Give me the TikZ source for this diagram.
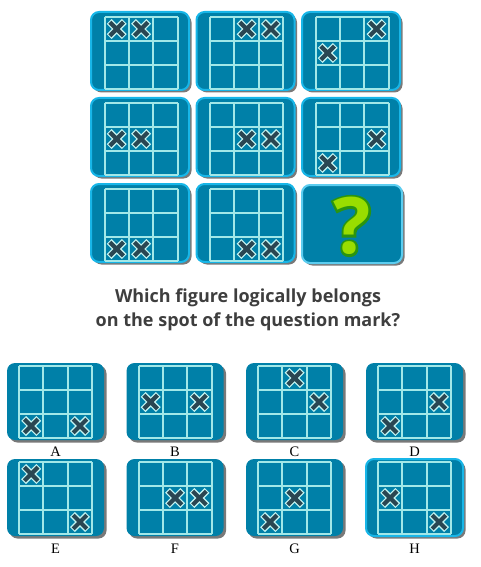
\documentclass[tikz,border=0pt]{standalone}
\usepackage{fontspec}
\setmainfont{Liberation Serif}
\newfontfamily\titlefont{Open Sans}
\newfontfamily\qthick{Open Sans Bold}[FakeBold=6]
\newfontfamily\qthin{Open Sans Bold}
\definecolor{tealc}{HTML}{0080A8}
\definecolor{cyanb}{HTML}{18B6E8}
\definecolor{cyanq}{HTML}{5CCDF0}
\definecolor{gridc}{HTML}{A2E8E8}
\definecolor{xdark}{HTML}{2A4652}
\definecolor{xlight}{HTML}{C4F4F2}
\definecolor{qgreen}{HTML}{99DD00}
\definecolor{qdark}{HTML}{2A9410}
\definecolor{titlec}{HTML}{3E3E3E}
\newcommand\xcross[2]{%
  \begin{scope}[shift={({#1},{#2})}]
    \draw[xlight,line width=6.8pt] (-7.6,-7.6)--(7.6,7.6) (-7.6,7.6)--(7.6,-7.6);
    \draw[xdark,line width=4.2pt] (-6.8,-6.8)--(6.8,6.8) (-6.8,6.8)--(6.8,-6.8);
  \end{scope}}
\newcommand\gtile[8]{%
  \begin{scope}[shift={(#1,#2)}]
    \fill[black!70,opacity=0.75,rounded corners=8pt] (2.5,2.5) rectangle (#3+2.5,#4+2.5);
    \fill[tealc,rounded corners=8pt,#7] (0,0) rectangle (#3,#4);
    \begin{scope}[shift={(#5,#6)}]
      \foreach \i in {0,...,3}{%
        \draw[gridc,line width=2pt] (\i*24.4,0) -- (\i*24.4,72);
        \draw[gridc,line width=2pt] (0,\i*24) -- (73.2,\i*24);}
      \foreach \c/\r in {#8}{\xcross{(\c-0.5)*24.4}{(\r-0.5)*24}}
    \end{scope}
  \end{scope}}
\tikzset{
  topb/.style={draw=cyanb,line width=2pt},
  plain/.style={},
  lbl/.style={font=\fontsize{14.5}{16}\selectfont,text=black},
  ttl/.style={font=\titlefont\bfseries\fontsize{18}{21}\selectfont,text=titlec}
}
\begin{document}
\begin{tikzpicture}[x=1pt,y=-1pt]
\useasboundingbox (0,0) rectangle (481,567);
% top matrix
\gtile{91}{12}{98}{78}{13.5}{5}{topb}{1/1,2/1}
\gtile{196.5}{12}{98}{78}{13.5}{5}{topb}{2/1,3/1}
\gtile{302}{12}{98}{78}{13.5}{5}{topb}{3/1,1/2}
\gtile{91}{98}{98}{78}{13.5}{5}{topb}{1/2,2/2}
\gtile{196.5}{98}{98}{78}{13.5}{5}{topb}{2/2,3/2}
\gtile{302}{98}{98}{78}{13.5}{5}{topb}{3/2,1/3}
\gtile{91}{184}{98}{78}{13.5}{5}{topb}{1/3,2/3}
\gtile{196.5}{184}{98}{78}{13.5}{5}{topb}{2/3,3/3}
% question tile
\fill[black!70,opacity=0.75,rounded corners=8pt] (304.5,187.5) rectangle (404.5,265.5);
\fill[tealc,rounded corners=8pt,draw=cyanq,line width=2pt] (302,185) rectangle (402,263);
\node[font=\qthick\fontsize{78}{80}\selectfont,text=qdark,inner sep=0pt] (qmo) at (352,226) {?};
\node[font=\qthin\fontsize{78}{80}\selectfont,text=qgreen,inner sep=0pt] (qm) at (qmo.center) {?};
% question text
\node[ttl] (t1) at (248,298) {Which figure logically belongs};
\node[ttl] (t2) at (248,322) {on the spot of the question mark?};
% answers
\gtile{7}{363}{97}{77}{12}{3}{plain}{1/3,3/3}
\gtile{126.5}{363}{97}{77}{12}{3}{plain}{1/2,3/2}
\gtile{246}{363}{97}{77}{12}{3}{plain}{2/1,3/2}
\gtile{366}{363}{97}{77}{12}{3}{plain}{3/2,1/3}
\gtile{7}{459}{97}{77}{12}{3}{plain}{1/1,3/3}
\gtile{126.5}{459}{97}{77}{12}{3}{plain}{2/2,3/2}
\gtile{246}{459}{97}{77}{12}{3}{plain}{2/2,1/3}
\gtile{366}{459}{97}{77}{12}{3}{topb}{1/2,3/3}
\node[lbl] (la) at (55.5,452) {A};
\node[lbl] (lb) at (175,452) {B};
\node[lbl] (lc) at (294.5,452) {C};
\node[lbl] (ld) at (414.5,452) {D};
\node[lbl] (le) at (55.5,549) {E};
\node[lbl] (lf) at (175,549) {F};
\node[lbl] (lg) at (294.5,549) {G};
\node[lbl] (lh) at (414.5,549) {H};
\end{tikzpicture}
\end{document}
